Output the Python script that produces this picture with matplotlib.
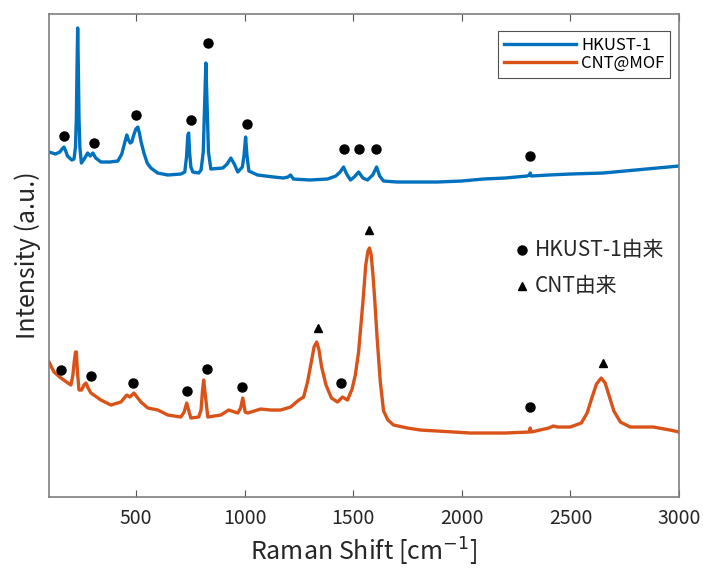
import matplotlib.pyplot as plt

plt.rcParams['font.family'] = ['Noto Sans CJK JP', 'DejaVu Sans']

# HKUST-1 spectrum (Raman shift, intensity a.u.)
hk_x = [100, 130, 150, 160, 169, 177, 185, 205, 215, 222, 226, 229, 232, 235, 238, 242,
        249, 262, 278, 290, 302, 315, 339, 380, 417, 435, 448, 458, 466, 474, 481, 490,
        500, 509, 516, 524, 537, 552, 569, 600, 647, 707, 725, 733, 739, 743, 747, 753,
        762, 789, 800, 810, 816, 822, 828, 834, 845, 900, 920, 937, 953, 969, 990, 998,
        1005, 1011, 1020, 1060, 1134, 1180, 1200, 1212, 1225, 1300, 1382, 1420, 1440, 1456,
        1470, 1488, 1505, 1525, 1545, 1566, 1590, 1608, 1622, 1640, 1700, 1800, 1888, 2000,
        2100, 2200, 2300, 2312, 2315, 2320, 2400, 2500, 2651, 2800, 2900, 3000]
hk_y = [345, 343, 345, 348, 350, 346, 341, 337, 338, 350, 380, 430, 469, 430, 380, 350,
        334, 338, 344, 341, 344, 339, 335, 335, 336, 343, 354, 362, 357, 354, 355, 362,
        368, 370, 364, 355, 344, 334, 329, 324, 322, 323, 325, 340, 362, 364, 345, 330,
        325, 324, 327, 345, 390, 434, 390, 345, 328, 329, 333, 339, 333, 325, 330, 342,
        360, 342, 326, 322, 320, 319, 320, 322, 318, 317, 318, 321, 325, 330,
        323, 317, 320, 325, 319, 317, 322, 330, 321, 316, 315, 315, 315, 316,
        318, 319, 321, 322, 324, 321, 322, 323, 324, 327, 329, 331]

# CNT@MOF spectrum
cm_x = [100, 123, 155, 187, 201, 210, 216, 222, 226, 231, 238, 250, 261, 270, 280, 293,
        339, 385, 431, 458, 472, 491, 523, 555, 601, 647, 707, 722, 734, 745, 753, 789,
        800, 806, 812, 818, 831, 891, 927, 969, 982, 992, 1003, 1015, 1074, 1120, 1166, 1212,
        1250, 1272, 1290, 1310, 1320, 1332, 1342, 1355, 1375, 1400, 1428, 1451, 1474, 1495,
        1510, 1525, 1545, 1558, 1568, 1575, 1583, 1592, 1600, 1610, 1625, 1640, 1660, 1686,
        1750, 1810, 2040, 2200, 2310, 2315, 2320, 2400, 2421, 2440, 2499, 2550, 2577, 2600,
        2620, 2642, 2660, 2680, 2700, 2730, 2775, 2881, 2959, 3000]
cm_y = [135, 125, 119, 114, 112, 122, 135, 145, 145, 125, 107, 107, 112, 114, 109, 104,
        97, 92, 95, 102, 100, 104, 95, 89, 87, 82, 80, 85, 94, 85, 79, 80,
        87, 105, 117, 105, 80, 82, 87, 84, 89, 99, 85, 84, 88, 87, 87, 90,
        97, 100, 115, 138, 150, 155, 148, 130, 112, 99, 95, 100, 97, 108,
        122, 145, 195, 232, 246, 249, 242, 220, 195, 160, 115, 86, 77, 72,
        69, 67, 64, 64, 65, 69, 65, 69, 71, 70, 70, 74, 84, 100,
        113, 119, 114, 100, 86, 75, 70, 70, 67, 65]

# peak markers
hk_dot_x = [169, 307, 500, 753, 831, 1010, 1460, 1529, 1603, 2315]
hk_dot_y = [361, 354, 382, 377, 454, 373, 348, 348, 348, 341]
cm_dot_x = [155, 293, 486, 734, 826, 987, 1442, 2315]
cm_dot_y = [127, 121, 114, 106, 128, 110, 114, 90]
cnt_tri_x = [1336, 1575, 2651]
cnt_tri_y = [169, 267, 134]

blue = '#0072BD'
orange = '#D95319'

fig = plt.figure(figsize=(7.03, 5.74), dpi=100)
ax = fig.add_axes([0.0697, 0.1341, 0.8962, 0.8415])

ax.plot(hk_x, hk_y, color=blue, lw=2.4, label='HKUST-1', solid_joinstyle='round')
ax.plot(cm_x, cm_y, color=orange, lw=2.4, label='CNT@MOF', solid_joinstyle='round')

ax.plot(hk_dot_x, hk_dot_y, 'o', color='black', ms=6.5, ls='none')
ax.plot(cm_dot_x, cm_dot_y, 'o', color='black', ms=6.5, ls='none')
ax.plot(cnt_tri_x, cnt_tri_y, '^', color='black', ms=6, ls='none')

ax.set_xlim(100, 3000)
ax.set_ylim(0, 483)
ax.set_xticks([500, 1000, 1500, 2000, 2500, 3000])
ax.set_yticks([])
ax.tick_params(axis='x', direction='in', top=True, length=5, width=0.8,
               color='#555555', labelsize=14, labelcolor='#262626', pad=8)
for s in ax.spines.values():
    s.set_color('#7f7f7f')
    s.set_linewidth(1.2)

ax.set_xlabel('Raman Shift [cm$^{-1}$]', fontsize=18, color='#262626', labelpad=5)
ax.set_ylabel('Intensity (a.u.)', fontsize=18, color='#262626', labelpad=6)

leg = ax.legend(loc='upper right', bbox_to_anchor=(0.9857, 0.9648), borderaxespad=0,
                fontsize=12, frameon=True, fancybox=False, edgecolor='#262626',
                handlelength=4.3, handletextpad=0.3, labelspacing=0.05, borderpad=0.35)
leg.get_frame().set_linewidth(0.8)

# marker key
ax.plot([0.751], [0.511], 'o', color='black', ms=6.5, transform=ax.transAxes, clip_on=False)
ax.plot([0.751], [0.436], '^', color='black', ms=6, transform=ax.transAxes, clip_on=False)
ax.text(0.771, 0.511, 'HKUST-1由来', transform=ax.transAxes, fontsize=15,
        va='center', ha='left', color='#262626')
ax.text(0.771, 0.436, 'CNT由来', transform=ax.transAxes, fontsize=15,
        va='center', ha='left', color='#262626')

plt.savefig('out.png', dpi=100)
